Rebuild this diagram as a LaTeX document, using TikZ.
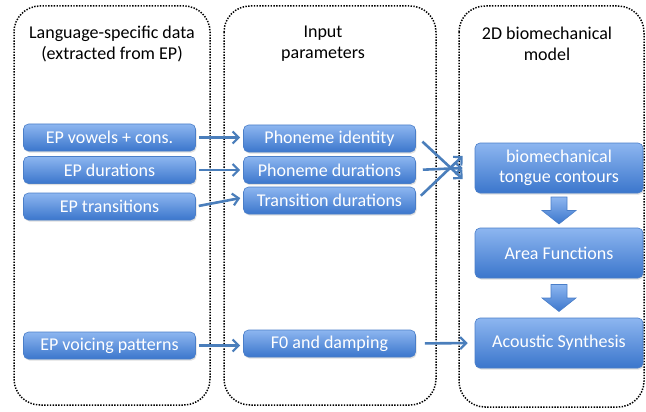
\documentclass[tikz,border=0pt]{standalone}
\usepackage{fontspec}
\setmainfont{Carlito}
\usetikzlibrary{arrows.meta,calc,shadows}
\definecolor{boxtop}{HTML}{8DB6F0}
\definecolor{boxbot}{HTML}{3B76CC}
\definecolor{boxedge}{HTML}{4A7EC8}
\definecolor{arrcol}{HTML}{4A7EBB}
\tikzset{
  panel/.style={draw=black, line width=1.5pt, dash pattern=on 1.4pt off 1.4pt, rounded corners=26pt},
  title/.style={font=\fontsize{18}{21}\selectfont, align=center, text=black},
  bluebox/.style={rectangle, rounded corners=5pt, draw=boxedge, line width=0.6pt,
    top color=boxtop, bottom color=boxbot, text=white,
    font=\fontsize{18}{20}\selectfont, align=center, inner sep=0pt,
    drop shadow={shadow xshift=1pt, shadow yshift=-1.5pt, opacity=0.25}},
  smallbox/.style={bluebox, minimum width=172pt, minimum height=27pt},
  bigbox/.style={bluebox, minimum width=168pt, minimum height=50pt},
  arr/.style={draw=arrcol, line width=2.6pt, -{Straight Barb[length=6pt,width=12pt,line width=2.2pt]}},
  blockarrow/.style={draw=boxedge, line width=0.6pt, top color=boxtop, bottom color=boxbot},
}
\begin{document}
\begin{tikzpicture}[x=1pt,y=-1pt]
\useasboundingbox (0,0) rectangle (646,412);
% panels
\draw[panel] (14,6) rectangle (210,405);
\draw[panel] (224,6) rectangle (436,405);
\draw[panel] (459,6) rectangle (644,407);
% titles
\node[title] (t1) at (112,44) {Language-specific data\\(extracted from EP)};
\node[title] (t2) at (323,44) {Input\\parameters};
\node[title] (t3) at (547,44) {2D biomechanical\\model};
% column 1
\node[smallbox] (ev) at (109.5,137.5) {EP vowels + cons.};
\node[smallbox] (ed) at (109.5,170) {EP durations};
\node[smallbox] (et) at (109.5,206.5) {EP transitions};
\node[smallbox] (evp) at (109.5,345.5) {EP voicing patterns};
% column 2
\node[smallbox] (pi) at (329.5,138.5) {Phoneme identity};
\node[smallbox] (pd) at (329.5,170) {Phoneme durations};
\node[smallbox] (td) at (329.5,200.5) {Transition durations};
\node[smallbox] (f0) at (329.5,343.5) {F0 and damping};
% column 3
\node[bigbox] (bt) at (559,168) {biomechanical\\tongue contours};
\node[bigbox] (af) at (559,253) {Area Functions};
\node[bigbox] (as) at (559,343) {Acoustic Synthesis};
% arrows col1 -> col2
\draw[arr, shorten <=3pt, shorten >=3pt] (ev.east) -- (pi.west |- ev.east);
\draw[arr, shorten <=3pt, shorten >=3pt] (ed.east) -- (pd.west);
\draw[arr, shorten <=3pt, shorten >=3pt] (et.east) -- ([yshift=3pt]td.west);
\draw[arr, shorten <=3pt, shorten >=3pt] (evp.east) -- (f0.west |- evp.east);
% arrows col2 -> col3
\coordinate (b1) at ([xshift=-12pt,yshift=-11pt]bt.west);
\coordinate (b2) at ([xshift=-12pt]bt.west);
\coordinate (b3) at ([xshift=-12pt,yshift=12pt]bt.west);
\draw[arr, shorten <=9pt] ([yshift=3pt]pi.east) -- (b1);
\draw[arr, shorten <=7pt] (pd.east) -- (b2);
\draw[arr, shorten <=7pt] (td.east) -- (b3);
\draw[arr, shorten <=9pt, shorten >=7pt] (f0.east) -- (as.west);
% block arrows
\coordinate (m1) at ($(bt.south)!0.5!(af.north)$);
\coordinate (m2) at ($(af.south)!0.5!(as.north)$);
\foreach \m in {m1,m2}{
  \draw[blockarrow] ([shift={(-8,-13.5)}]\m) -- ([shift={(8,-13.5)}]\m) -- ([shift={(8,0)}]\m)
    -- ([shift={(17,0)}]\m) -- ([shift={(0,13.5)}]\m) -- ([shift={(-17,0)}]\m)
    -- ([shift={(-8,0)}]\m) -- cycle;
}
\end{tikzpicture}
\end{document}
